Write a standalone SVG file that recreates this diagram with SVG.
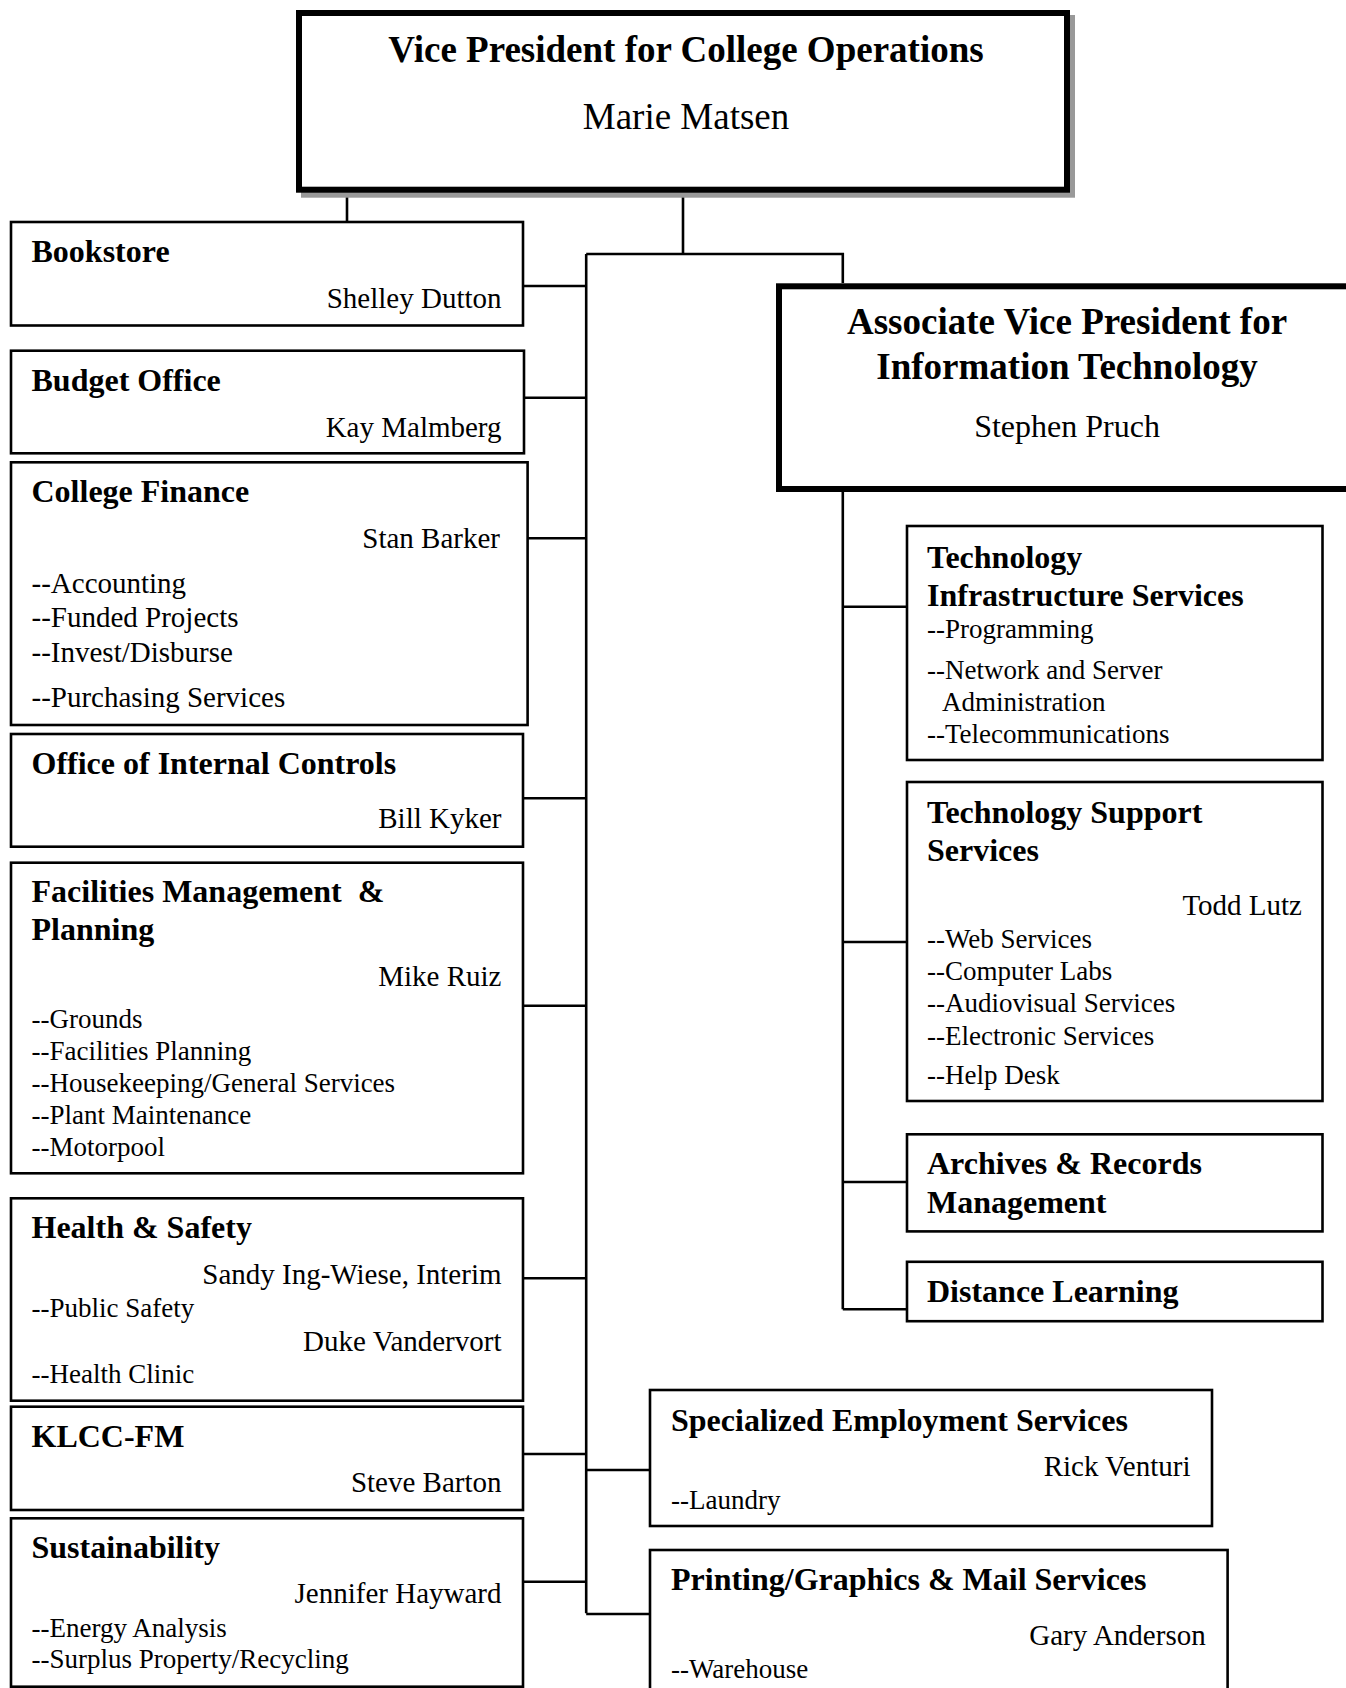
<svg xmlns="http://www.w3.org/2000/svg" width="1346" height="1688" viewBox="0 0 1346 1688">
<style>
.bx{fill:#fff;stroke:#000;stroke-width:2.6}
.big{fill:#fff;stroke:#000;stroke-width:6}
.sh{fill:none;stroke:#999;stroke-width:6}
.cn{fill:none;stroke:#000;stroke-width:2.6}
text{font-family:"Liberation Serif","Times New Roman",serif;fill:#000}
.h1{font-size:37px;font-weight:bold}
.h1n{font-size:37px}
.t{font-size:32px;font-weight:bold}
.n{font-size:29px}
.s{font-size:27px}
.s29{font-size:29px}
.c{text-anchor:middle}
.r{text-anchor:end}
</style>
<rect width="1346" height="1688" fill="#fff"/>
<g id="connectors">
<path class="cn" d="M347 192V222"/>
<path class="cn" d="M683 192V254M586.2 254H842.8V283"/>
<path class="cn" d="M586.2 254V1613.3"/>
<path class="cn" d="M523 286H586.2M524 397.7H586.2M527.6 538.3H586.2M523 798.3H586.2M523 1005.7H586.2M523 1278.3H586.2M523 1454H586.2M523 1581.7H586.2"/>
<path class="cn" d="M586.2 1470H650M586.2 1614H650"/>
<path class="cn" d="M842.8 492V1309.3M842.8 606.7H907M842.8 942H907M842.8 1182H907M842.8 1309.3H907"/>
</g>
<g id="vp">
<rect class="sh" x="304" y="18" width="768" height="176.7"/>
<rect class="big" x="299" y="13" width="768" height="176.7"/>
<text class="h1 c" x="686" y="62">Vice President for College Operations</text>
<text class="h1n c" x="686" y="128.5">Marie Matsen</text>
</g>
<g id="avp">
<rect class="big" x="779" y="286.3" width="600" height="202.7"/>
<text class="h1 c" x="1067" y="333.5">Associate Vice President for</text>
<text class="h1 c" x="1067" y="378.7">Information Technology</text>
<text class="t c" x="1067" y="437" style="font-weight:normal">Stephen Pruch</text>
</g>
<g id="bookstore">
<rect class="bx" x="11" y="222" width="512" height="103.5"/>
<text class="t" x="31.5" y="262">Bookstore</text>
<text class="n r" x="501.5" y="307.5">Shelley Dutton</text>
</g>
<g id="budget">
<rect class="bx" x="11" y="350.7" width="513" height="102.6"/>
<text class="t" x="31.5" y="390.5">Budget Office</text>
<text class="n r" x="501.5" y="436.5">Kay Malmberg</text>
</g>
<g id="finance">
<rect class="bx" x="11" y="462.3" width="516.6" height="262.7"/>
<text class="t" x="31.5" y="502">College Finance</text>
<text class="n r" x="500" y="547.5">Stan Barker</text>
<text class="s29" x="31.5" y="592.5">--Accounting</text>
<text class="s29" x="31.5" y="627">--Funded Projects</text>
<text class="s29" x="31.5" y="662">--Invest/Disburse</text>
<text class="s29" x="31.5" y="707">--Purchasing Services</text>
</g>
<g id="controls">
<rect class="bx" x="11" y="734" width="512" height="112.7"/>
<text class="t" x="31.5" y="774">Office of Internal Controls</text>
<text class="n r" x="501.5" y="828">Bill Kyker</text>
</g>
<g id="facilities">
<rect class="bx" x="11" y="862.7" width="512" height="310.6"/>
<text class="t" x="31.5" y="901.5">Facilities Management&#160; &amp;</text>
<text class="t" x="31.5" y="939.5">Planning</text>
<text class="n r" x="501.5" y="986">Mike Ruiz</text>
<text class="s" x="31.5" y="1028">--Grounds</text>
<text class="s" x="31.5" y="1060">--Facilities Planning</text>
<text class="s" x="31.5" y="1092">--Housekeeping/General Services</text>
<text class="s" x="31.5" y="1123.5">--Plant Maintenance</text>
<text class="s" x="31.5" y="1155.5">--Motorpool</text>
</g>
<g id="health">
<rect class="bx" x="11" y="1198.3" width="512" height="202.4"/>
<text class="t" x="31.5" y="1238">Health &amp; Safety</text>
<text class="n r" x="501.5" y="1283.5">Sandy Ing-Wiese, Interim</text>
<text class="s" x="31.5" y="1316.5">--Public Safety</text>
<text class="n r" x="501.5" y="1351">Duke Vandervort</text>
<text class="s" x="31.5" y="1383">--Health Clinic</text>
</g>
<g id="klcc">
<rect class="bx" x="11" y="1406.7" width="512" height="103.3"/>
<text class="t" x="31.5" y="1446.5">KLCC-FM</text>
<text class="n r" x="501.5" y="1491.5">Steve Barton</text>
</g>
<g id="sustainability">
<rect class="bx" x="11" y="1518.3" width="512" height="168.4"/>
<text class="t" x="31.5" y="1558">Sustainability</text>
<text class="n r" x="501.5" y="1603">Jennifer Hayward</text>
<text class="s" x="31.5" y="1636.7">--Energy Analysis</text>
<text class="s" x="31.5" y="1668">--Surplus Property/Recycling</text>
</g>
<g id="tis">
<rect class="bx" x="907" y="526" width="415.5" height="234"/>
<text class="t" x="927" y="568">Technology</text>
<text class="t" x="927" y="605.5">Infrastructure Services</text>
<text class="s" x="927" y="638.3">--Programming</text>
<text class="s" x="927" y="679">--Network and Server</text>
<text class="s" x="942" y="710.7">Administration</text>
<text class="s" x="927" y="743">--Telecommunications</text>
</g>
<g id="tss">
<rect class="bx" x="907" y="782" width="415.5" height="319"/>
<text class="t" x="927" y="822.6">Technology Support</text>
<text class="t" x="927" y="860.5">Services</text>
<text class="n r" x="1302" y="914.5">Todd Lutz</text>
<text class="s" x="927" y="948">--Web Services</text>
<text class="s" x="927" y="980">--Computer Labs</text>
<text class="s" x="927" y="1012.4">--Audiovisual Services</text>
<text class="s" x="927" y="1044.8">--Electronic Services</text>
<text class="s" x="927" y="1084">--Help Desk</text>
</g>
<g id="archives">
<rect class="bx" x="907" y="1134.3" width="415.5" height="97.1"/>
<text class="t" x="927" y="1174.4">Archives &amp; Records</text>
<text class="t" x="927" y="1213.3">Management</text>
</g>
<g id="distance">
<rect class="bx" x="907" y="1261.8" width="415.5" height="59.4"/>
<text class="t" x="927" y="1302">Distance Learning</text>
</g>
<g id="ses">
<rect class="bx" x="650" y="1390" width="562" height="136"/>
<text class="t" x="671" y="1430.5">Specialized Employment Services</text>
<text class="n r" x="1190.5" y="1475.5">Rick Venturi</text>
<text class="s" x="671" y="1509">--Laundry</text>
</g>
<g id="printing">
<rect class="bx" x="650" y="1550" width="577.6" height="160"/>
<text class="t" x="671" y="1590.4">Printing/Graphics &amp; Mail Services</text>
<text class="n r" x="1205.7" y="1644.7">Gary Anderson</text>
<text class="s" x="671" y="1677.7">--Warehouse</text>
</g>
</svg>
